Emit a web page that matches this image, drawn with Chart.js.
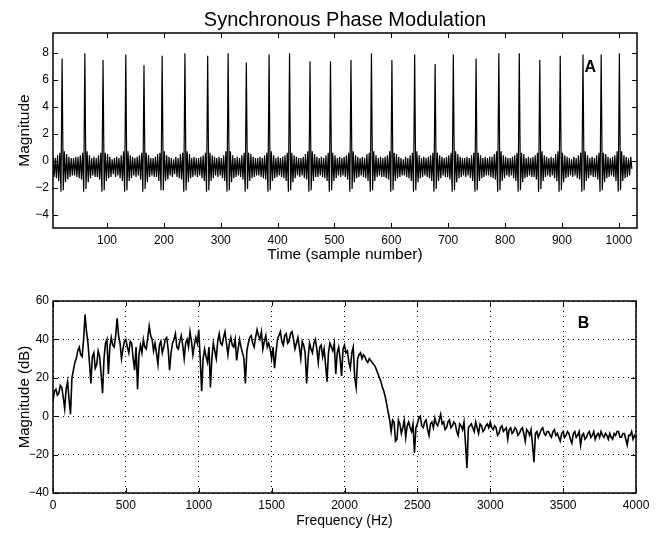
<!DOCTYPE html>
<html>
<head>
<meta charset="utf-8">
<script src="https://cdn.jsdelivr.net/npm/chart.js@4.4.1/dist/chart.umd.min.js"></script>
<style>
  body { margin: 0; background: #fff; }
  #wrap { position: relative; width: 664px; height: 533px; }
  canvas { position: absolute; left: 0; }
</style>
</head>
<body>
<div id="wrap">
  <canvas id="panelA" width="664" height="270" style="top:0"></canvas>
  <canvas id="panelB" width="664" height="263" style="top:270px"></canvas>
</div>
<script>
const FONT = "'Liberation Sans', Arial, Helvetica, sans-serif";

// A: time signal, one value every 2 samples, first sample = 1
// (one line per pulse, each line starts at the pulse peak)
const sampleStep = 2;
const firstSample = 1;
const magnitudeA = [
  0.1, -1.0, 0.3, -1.2, 0.2, -1.3, 0.4, -1.5, 0.6, -2.3,
  7.6, -2.2, 0.7, -1.6, 0.5, -1.4, 0.3, -1.2, 0.2, -1.1, 0.2, -1.1, 0.3, -1.2, 0.3, -1.3, 0.4, -1.4, 0.6, -2.3,
  8.0, -2.1, 0.7, -1.6, 0.4, -1.3, 0.2, -1.1, 0.3, -1.2, 0.2, -1.2, 0.4, -1.4, 0.6, -2.3,
  7.5, -2.2, 0.6, -1.5, 0.5, -1.3, 0.3, -1.2, 0.1, -1.0, 0.2, -1.2, 0.3, -1.1, 0.2, -1.3, 0.4, -1.5, 0.7, -2.3,
  7.9, -2.2, 0.7, -1.5, 0.4, -1.3, 0.3, -1.1, 0.2, -1.2, 0.3, -1.1, 0.4, -1.4, 0.6, -2.3,
  7.1, -2.1, 0.6, -1.6, 0.4, -1.2, 0.2, -1.1, 0.2, -1.2, 0.3, -1.2, 0.5, -1.5, 0.6, -2.2,
  7.8, -2.2, 0.7, -1.5, 0.4, -1.4, 0.3, -1.1, 0.2, -1.2, 0.1, -1.0, 0.3, -1.2, 0.2, -1.3, 0.5, -1.4, 0.6, -2.3,
  8.0, -2.2, 0.7, -1.6, 0.5, -1.3, 0.2, -1.2, 0.3, -1.1, 0.2, -1.2, 0.2, -1.1, 0.3, -1.3, 0.4, -1.5, 0.6, -2.3,
  7.8, -2.2, 0.6, -1.5, 0.4, -1.3, 0.3, -1.1, 0.2, -1.2, 0.3, -1.1, 0.2, -1.3, 0.4, -1.5, 0.7, -2.3,
  8.0, -2.2, 0.7, -1.6, 0.4, -1.3, 0.2, -1.2, 0.3, -1.1, 0.2, -1.2, 0.4, -1.4, 0.6, -2.3,
  7.3, -2.1, 0.6, -1.5, 0.5, -1.3, 0.3, -1.2, 0.2, -1.1, 0.2, -1.1, 0.3, -1.2, 0.2, -1.3, 0.4, -1.4, 0.6, -2.3,
  7.9, -2.2, 0.7, -1.5, 0.4, -1.3, 0.2, -1.2, 0.3, -1.1, 0.2, -1.2, 0.3, -1.3, 0.4, -1.5, 0.6, -2.3,
  8.0, -2.2, 0.6, -1.6, 0.4, -1.3, 0.3, -1.1, 0.2, -1.2, 0.2, -1.1, 0.3, -1.3, 0.5, -1.4, 0.7, -2.3,
  7.4, -2.2, 0.7, -1.5, 0.5, -1.2, 0.3, -1.2, 0.2, -1.1, 0.3, -1.2, 0.2, -1.3, 0.4, -1.5, 0.6, -2.3,
  7.4, -2.2, 0.6, -1.5, 0.4, -1.3, 0.2, -1.1, 0.3, -1.2, 0.2, -1.1, 0.3, -1.2, 0.4, -1.4, 0.6, -2.3,
  7.5, -2.1, 0.7, -1.6, 0.4, -1.3, 0.3, -1.2, 0.2, -1.1, 0.3, -1.2, 0.2, -1.3, 0.5, -1.5, 0.6, -2.3,
  8.0, -2.2, 0.7, -1.5, 0.4, -1.2, 0.2, -1.1, 0.3, -1.2, 0.2, -1.2, 0.3, -1.3, 0.4, -1.4, 0.7, -2.3,
  7.5, -2.2, 0.6, -1.5, 0.5, -1.3, 0.3, -1.2, 0.2, -1.1, 0.1, -1.1, 0.3, -1.2, 0.2, -1.3, 0.4, -1.5, 0.6, -2.3,
  7.9, -2.2, 0.7, -1.6, 0.4, -1.3, 0.2, -1.2, 0.3, -1.1, 0.2, -1.2, 0.3, -1.3, 0.4, -1.5, 0.6, -2.3,
  7.2, -2.1, 0.6, -1.5, 0.4, -1.3, 0.3, -1.1, 0.2, -1.2, 0.3, -1.2, 0.4, -1.4, 0.6, -2.3,
  7.9, -2.2, 0.7, -1.6, 0.5, -1.3, 0.3, -1.2, 0.2, -1.1, 0.2, -1.2, 0.3, -1.1, 0.2, -1.3, 0.4, -1.5, 0.6, -2.3,
  7.6, -2.2, 0.6, -1.5, 0.4, -1.3, 0.2, -1.2, 0.3, -1.1, 0.2, -1.1, 0.3, -1.2, 0.3, -1.3, 0.5, -1.4, 0.7, -2.3,
  8.0, -2.2, 0.7, -1.5, 0.4, -1.3, 0.3, -1.1, 0.2, -1.2, 0.2, -1.1, 0.3, -1.3, 0.4, -1.5, 0.6, -2.3,
  8.0, -2.2, 0.6, -1.6, 0.5, -1.3, 0.2, -1.2, 0.3, -1.1, 0.2, -1.2, 0.3, -1.2, 0.4, -1.4, 0.6, -2.3,
  7.5, -2.1, 0.7, -1.5, 0.4, -1.2, 0.3, -1.1, 0.2, -1.2, 0.3, -1.1, 0.2, -1.3, 0.5, -1.5, 0.7, -2.3,
  7.8, -2.2, 0.6, -1.6, 0.4, -1.3, 0.3, -1.2, 0.2, -1.1, 0.1, -1.2, 0.3, -1.1, 0.2, -1.3, 0.4, -1.4, 0.6, -2.3,
  7.9, -2.2, 0.7, -1.5, 0.4, -1.3, 0.2, -1.1, 0.3, -1.2, 0.2, -1.2, 0.4, -1.4, 0.6, -2.3,
  7.9, -2.2, 0.6, -1.6, 0.5, -1.3, 0.3, -1.2, 0.2, -1.1, 0.3, -1.2, 0.4, -1.5, 0.7, -2.3,
  8.0, -2.2, 0.7, -1.5, 0.4, -1.3, 0.3, -1.2, 0.2, -1.1, 0.3, -0.6
];

// B: spectrum in dB, one value every 10 Hz from 0 Hz
const freqStep = 10;
const magnitudeB = [
  8, 13, 14, 11, 12, 16, 15, 10, 4, 14, 18, 9, 1, 20, 24, 28, 30, 34, 36, 32,
  31, 40, 53, 44, 38, 28, 17, 31, 33, 25, 27, 34, 31, 22, 12, 30, 38, 40, 22, 36,
  41, 37, 36, 42, 51, 42, 38, 30, 35, 39, 40, 36, 33, 39, 38, 30, 24, 36, 14, 32,
  37, 33, 40, 36, 35, 41, 47, 42, 40, 34, 38, 33, 27, 37, 39, 33, 36, 40, 41, 35,
  24, 33, 38, 40, 43, 36, 35, 39, 42, 37, 30, 38, 40, 36, 44, 39, 32, 37, 41, 38,
  45, 30, 13, 30, 35, 31, 28, 36, 15, 30, 38, 34, 30, 39, 43, 38, 37, 41, 44, 38,
  32, 38, 41, 37, 36, 40, 29, 35, 40, 36, 33, 30, 17, 34, 38, 41, 42, 38, 36, 41,
  45, 42, 40, 44, 35, 39, 42, 36, 38, 35, 30, 36, 25, 33, 40, 42, 44, 39, 37, 42,
  43, 38, 39, 43, 44, 40, 35, 38, 41, 36, 30, 39, 37, 33, 17, 30, 38, 35, 33, 38,
  40, 35, 28, 36, 37, 31, 35, 27, 18, 33, 38, 36, 34, 38, 22, 33, 36, 30, 21, 35,
  37, 33, 34, 28, 25, 33, 36, 20, 15, 30, 32, 33, 30, 32, 31, 29, 28, 30, 29, 28,
  27, 26, 24, 22, 20, 18, 15, 13, 10, 6, 2, -2, -8, -2, -3, -13, -12, -2, -4, -9,
  -6, -2, -11, -5, -3, -6, -8, -4, -19, -6, -4, -1, 0, -5, -6, -3, -2, -7, -10, -4,
  -3, -6, -1, -4, -5, -2, 1, -4, -3, -7, -6, -3, -2, -6, -5, -3, -4, -8, -10, -4,
  -5, -7, -3, -14, -27, -6, -5, -4, -6, -8, -3, -6, -9, -4, -5, -8, -7, -5, -4, -6,
  -3, -6, -7, -5, -6, -10, -9, -6, -5, -8, -7, -6, -12, -7, -6, -9, -8, -6, -7, -10,
  -9, -7, -6, -9, -13, -7, -8, -10, -7, -15, -24, -9, -8, -11, -9, -7, -6, -9, -10, -8,
  -8, -10, -11, -8, -7, -10, -9, -11, -13, -9, -8, -11, -10, -8, -9, -12, -14, -9, -8, -11,
  -10, -8, -15, -10, -9, -12, -11, -9, -8, -11, -10, -8, -12, -10, -9, -11, -8, -10, -11, -9,
  -10, -12, -9, -11, -12, -9, -10, -8, -8, -11, -11, -9, -9, -12, -15, -10, -10, -8, -12, -10,
  -11
];

const ticksAx = [100, 200, 300, 400, 500, 600, 700, 800, 900, 1000];
const ticksAy = [-4, -2, 0, 2, 4, 6, 8];
const ticksBx = [0, 500, 1000, 1500, 2000, 2500, 3000, 3500, 4000];
const ticksBy = [-40, -20, 0, 20, 40, 60];

const labelA = { text: 'A', x: 950, y: 6.9 };
const labelB = { text: 'B', x: 3640, y: 48.4 };

// frame, inward tick marks and the panel letter
const boxTicks = {
  id: 'boxTicks',
  afterDatasetsDraw(chart, args, opts) {
    const { ctx, chartArea: a, scales: { x, y } } = chart;
    ctx.save();
    ctx.strokeStyle = '#000';
    ctx.lineWidth = 1;
    ctx.beginPath();
    x.ticks.forEach(t => {
      const px = Math.round(x.getPixelForValue(t.value)) + 0.5;
      ctx.moveTo(px, a.bottom); ctx.lineTo(px, a.bottom - 5);
      ctx.moveTo(px, a.top); ctx.lineTo(px, a.top + 5);
    });
    y.ticks.forEach(t => {
      const py = Math.round(y.getPixelForValue(t.value)) + 0.5;
      ctx.moveTo(a.left, py); ctx.lineTo(a.left + 5, py);
      ctx.moveTo(a.right, py); ctx.lineTo(a.right - 5, py);
    });
    ctx.stroke();
    ctx.lineWidth = 1.5;
    ctx.strokeRect(a.left, a.top, a.right - a.left, a.bottom - a.top);
    ctx.font = 'bold 16px ' + FONT;
    ctx.fillStyle = '#000';
    ctx.textAlign = 'center';
    ctx.textBaseline = 'middle';
    ctx.fillText(opts.text, x.getPixelForValue(opts.x), y.getPixelForValue(opts.y));
    ctx.restore();
  }
};

function fixTicks(list) {
  return scale => { scale.ticks = list.map(v => ({ value: v })); };
}

// plain numbers with a real minus sign, as in the original figure
const tickText = v => String(v).replace('-', '\u2212');

function makeChart(id, cfg) {
  return new Chart(document.getElementById(id), {
    type: 'line',
    data: {
      datasets: [{
        data: cfg.points,
        borderColor: '#000',
        borderWidth: cfg.lineWidth,
        pointRadius: 0,
        tension: 0
      }]
    },
    options: {
      responsive: false,
      animation: false,
      events: [],
      layout: { padding: cfg.padding },
      plugins: {
        legend: { display: false },
        tooltip: { enabled: false },
        title: cfg.title,
        boxTicks: cfg.label
      },
      scales: {
        x: {
          type: 'linear',
          min: cfg.xMin, max: cfg.xMax,
          afterBuildTicks: fixTicks(cfg.xTicks),
          afterFit: s => { s.height = cfg.xHeight; },
          grid: cfg.grid,
          border: { display: false, dash: [1, 4] },
          ticks: { color: '#000', font: { family: FONT, size: 12 }, padding: 5, maxRotation: 0,
                   autoSkip: false, callback: tickText },
          title: { display: true, text: cfg.xTitle, color: '#000',
                   font: { family: FONT, size: cfg.xTitleSize }, padding: { top: 0, bottom: cfg.xTitlePad } }
        },
        y: {
          type: 'linear',
          min: cfg.yMin, max: cfg.yMax,
          afterBuildTicks: fixTicks(cfg.yTicks),
          afterFit: s => { s.width = 53; },
          grid: cfg.grid,
          border: { display: false, dash: [1, 4] },
          ticks: { color: '#000', font: { family: FONT, size: 12 }, padding: 4, autoSkip: false,
                   callback: tickText },
          title: { display: true, text: cfg.yTitle, color: '#000',
                   font: { family: FONT, size: cfg.yTitleSize }, padding: { top: 15.5, bottom: 0 } }
        }
      }
    },
    plugins: [boxTicks]
  });
}

makeChart('panelA', {
  points: magnitudeA.map((v, i) => ({ x: firstSample + i * sampleStep, y: v })),
  lineWidth: 1.2,
  padding: { top: 0, right: 27, bottom: 0, left: 0 },
  title: { display: true, text: 'Synchronous Phase Modulation', color: '#000', fullSize: false,
           font: { family: FONT, size: 20, weight: 'normal' }, padding: { top: 8, bottom: 1 } },
  label: labelA,
  xMin: 5, xMax: 1032, xTicks: ticksAx, xHeight: 42,
  xTitle: 'Time (sample number)', xTitleSize: 15.5, xTitlePad: 5.7,
  yMin: -5, yMax: 9.5, yTicks: ticksAy,
  yTitle: 'Magnitude', yTitleSize: 15.5,
  grid: { display: false, drawTicks: false }
});

makeChart('panelB', {
  points: magnitudeB.map((v, i) => ({ x: i * freqStep, y: v })),
  lineWidth: 1.6,
  padding: { top: 31, right: 28, bottom: 0, left: 0 },
  title: { display: false },
  label: labelB,
  xMin: 0, xMax: 4000, xTicks: ticksBx, xHeight: 40,
  xTitle: 'Frequency (Hz)', xTitleSize: 14, xTitlePad: 3.6,
  yMin: -40, yMax: 60, yTicks: ticksBy,
  yTitle: 'Magnitude (dB)', yTitleSize: 15,
  grid: { display: true, color: '#000', lineWidth: 1, drawTicks: false }
});
</script>
</body>
</html>
